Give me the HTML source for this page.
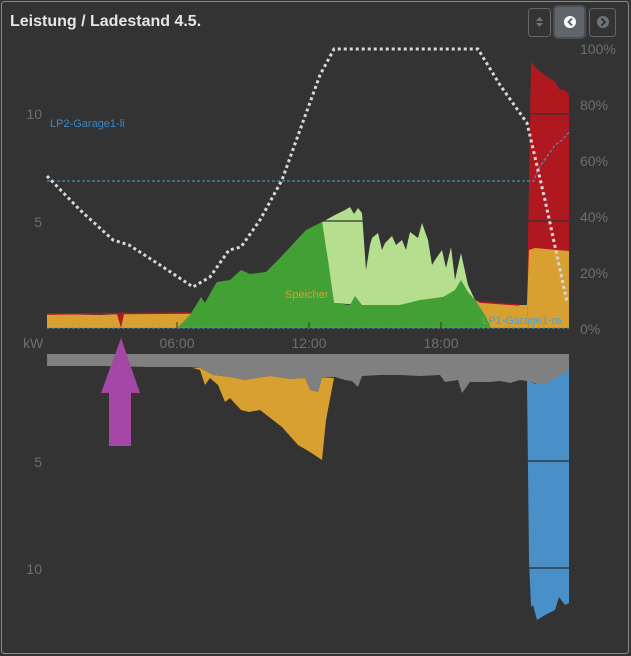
<!DOCTYPE html>
<html><head><meta charset="utf-8"><style>
html,body{margin:0;padding:0;background:#333;}
svg{display:block;font-family:"Liberation Sans",sans-serif;}
</style></head><body>
<svg width="631" height="656" viewBox="0 0 631 656">
<rect x="0" y="0" width="631" height="656" fill="#333"/>
<rect x="1.5" y="1.5" width="627" height="652" rx="3" fill="none" stroke="#8a8a8a" stroke-width="1"/>
<text x="10" y="26" font-size="16" font-weight="bold" fill="#e6e6e6">Leistung / Ladestand 4.5.</text>
<rect x="528.5" y="8.5" width="22" height="28" rx="3" fill="none" stroke="#666"/>
<path d="M536 21 l3.5 -4 l3.5 4z M536 23 l3.5 4 l3.5 -4z" fill="#777"/>
<rect x="554" y="6" width="31" height="32" rx="4" fill="#5f656b" stroke="#4a4f55" stroke-width="2"/>
<circle cx="570" cy="22" r="6" fill="#fff"/><path d="M572 18.5 l-3.5 3.5 l3.5 3.5" stroke="#5f656b" stroke-width="2" fill="none"/>
<rect x="589.5" y="8.5" width="26" height="28" rx="3" fill="none" stroke="#666"/>
<circle cx="603" cy="22" r="6" fill="#6a7580"/><path d="M601.5 18.5 l3.5 3.5 l-3.5 3.5" stroke="#333" stroke-width="2" fill="none"/>
<g fill="#6e6e6e" font-size="14">
<text x="42" y="119" text-anchor="end">10</text>
<text x="42" y="227" text-anchor="end">5</text>
<text x="23" y="348">kW</text>
<text x="42" y="467" text-anchor="end">5</text>
<text x="42" y="574" text-anchor="end">10</text>
<text x="177" y="348" text-anchor="middle">06:00</text>
<text x="309" y="348" text-anchor="middle">12:00</text>
<text x="441" y="348" text-anchor="middle">18:00</text>
<text x="580" y="54">100%</text>
<text x="580" y="110">80%</text>
<text x="580" y="166">60%</text>
<text x="580" y="222">40%</text>
<text x="580" y="278">20%</text>
<text x="580" y="334">0%</text>
</g>
<path d="M47 314 L100 315 L120 314 L122 322 L124 314 L190 313 L200 328 L47 328Z" fill="#d8a030"/>
<path d="M47 314 L190 313" stroke="#b01820" stroke-width="1.5" fill="none"/>
<path d="M117 314 L121 328 L124 314Z" fill="#b01820"/>
<path d="M475 300 L479 302 L519 305 L527 305 L529 328 L491 328Z" fill="#d8a030"/>
<path d="M479 302 L519 305" stroke="#b01820" stroke-width="1.5"/>
<path d="M322 222 L335 215 L345 210 L350 207 L354 214 L358 208 L362 213 L366 270 L370 245 L372 238 L378 233 L382 250 L385 243 L392 236 L396 245 L402 240 L406 250 L410 232 L418 238 L422 223 L428 240 L432 265 L435 260 L442 250 L446 268 L451 247 L455 280 L461 253 L468 285 L475 300 L443 297 L400 305 L362 305 L334 303Z" fill="#b5df8f"/>
<path d="M177 328 L190 315 L201 297 L205 303 L212 290 L217 282 L230 280 L241 270 L250 274 L266 272 L280 258 L306 230 L322 222 L328 260 L334 303 L350 305 L355 296 L362 305 L400 305 L420 300 L443 297 L455 290 L461 280 L468 292 L475 300 L485 315 L491 328Z" fill="#43a035"/>
<line x1="322" y1="221" x2="364" y2="221" stroke="#333" stroke-width="1.2"/>
<path d="M527 305 L531 62 L536 68 L545 75 L555 82 L560 90 L565 90 L569 95 L569 328 L529 328Z" fill="#b01820"/>
<path d="M527 305 L529 250 L535 248 L569 251 L569 328 L529 328Z" fill="#d8a030"/>
<line x1="528" y1="114" x2="569" y2="114" stroke="#333" stroke-width="1.2"/>
<line x1="528" y1="221" x2="569" y2="221" stroke="#333" stroke-width="1.2"/>
<line x1="47" y1="328" x2="569" y2="328" stroke="#4aa0c0" stroke-width="1" stroke-dasharray="3,2"/>
<line x1="177" y1="322" x2="177" y2="328" stroke="#333"/>
<line x1="309" y1="322" x2="309" y2="328" stroke="#333"/>
<line x1="441" y1="322" x2="441" y2="328" stroke="#333"/>
<path d="M47 181 L534 181 L537 172 L541 165 L548 155 L555 145 L562 140 L569 132" stroke="#4aa0d8" stroke-width="1" fill="none" stroke-dasharray="3,2"/>
<path d="M47 176 L80 210 L113 240 L129 245 L160 265 L193 287 L210 277 L229 250 L241 247 L260 220 L282 180 L300 130 L320 75 L334 49 L478 49 L500 85 L527 123 L545 200 L567 302" stroke="#d8d8d8" stroke-width="3" fill="none" stroke-dasharray="3,3"/>
<text x="50" y="127" font-size="11" fill="#3a88c8">LP2-Garage1-li</text>
<text x="285" y="298" font-size="11" fill="#d8a030">Speicher</text>
<text x="482" y="324" font-size="11" fill="#4aa0d8">LP1-Garage1-re</text>
<path d="M47 354 L569 354 L569 370 L565 373 L560 380 L555 385 L545 384 L540 385 L528 381 L520 380 L510 383 L500 381 L490 382 L470 382 L462 393 L458 380 L445 382 L440 375 L420 376 L400 375 L380 375 L362 376 L358 387 L352 381 L345 380 L335 377 L322 378 L318 392 L310 390 L305 378 L290 379 L270 376 L245 380 L230 377 L213 375 L200 368 L190 367 L150 367 L100 366 L60 366 L47 366Z" fill="#808080"/>
<path d="M193 368 L200 370 L205 385 L210 378 L218 385 L225 402 L230 398 L241 410 L249 412 L260 410 L282 427 L298 445 L310 452 L322 460 L326 420 L334 378 L322 378 L318 392 L310 390 L305 378 L290 379 L270 376 L245 380 L230 377 L213 375 L200 368Z" fill="#d8a030"/>
<path d="M527 380 L535 384 L545 384 L555 378 L565 373 L569 368 L569 603 L565 605 L559 597 L555 610 L545 615 L537 620 L533 605 L531 607 L529 560Z" fill="#4a90c8"/>
<line x1="528" y1="461" x2="569" y2="461" stroke="#2a2a2a" stroke-width="1.2"/>
<line x1="529" y1="568" x2="569" y2="568" stroke="#2a2a2a" stroke-width="1.2"/>
<path d="M121 338 L140 393 L131 393 L131 446 L109 446 L109 393 L101 393Z" fill="#a548a5"/>
</svg>
</body></html>
